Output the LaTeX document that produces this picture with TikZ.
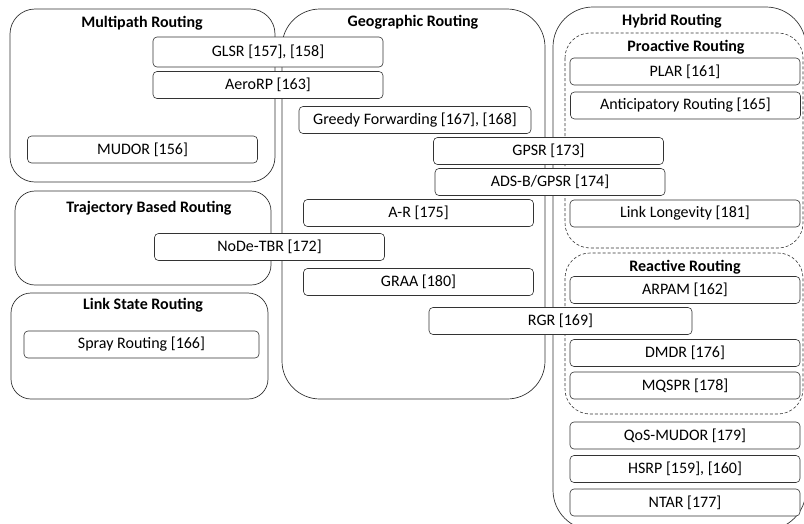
\documentclass[tikz,border=0pt]{standalone}
\usepackage{fontspec}
\setmainfont{Carlito}
\usepackage{tikz}
\tikzstyle{group} = [draw=black!80, line width=0.7pt]
\tikzstyle{subgroup} = [draw=black!80, line width=0.6pt, dashed, dash pattern=on 3pt off 2pt]
\tikzstyle{title} = [font=\fontsize{16}{18}\selectfont\bfseries, inner sep=0pt]
\tikzstyle{proto} = [rectangle, rounded corners=4pt, minimum width=230pt, minimum height=27pt,
text centered, draw=black!80, line width=0.6pt, fill=white, inner sep=0pt, font=\fontsize{16}{18}\selectfont]

\begin{document}
\begin{tikzpicture}[x=1pt,y=-1pt]
                 \useasboundingbox (0,0) rectangle (804,523);
                 \clip (0,0) rectangle (804,523);
                 % routing families
                 \draw [group, rounded corners=25pt] (10,9) rectangle (275,182);
                 \draw [group, rounded corners=38pt] (282,9) rectangle (545,399);
                 \draw [group, rounded corners=40pt] (553,7) rectangle (806,530);
                 \draw [group, rounded corners=20pt] (15,191) rectangle (271,285);
                 \draw [group, rounded corners=20pt] (11,293) rectangle (268,399);
                 \draw [subgroup, rounded corners=25pt] (565,33) rectangle (803,248);
                 \draw [subgroup, rounded corners=25pt] (565,253) rectangle (803,414);
                 \node (multipath) [title] at (142,23) {Multipath Routing};
                 \node (geographic) [title] at (413,22) {Geographic Routing};
                 \node (hybrid) [title] at (672,21) {Hybrid Routing};
                 \node (proactive) [title] at (686,47) {Proactive Routing};
                 \node (reactive) [title] at (685,267) {Reactive Routing};
                 \node (trajectory) [title] at (149,208) {Trajectory Based Routing};
                 \node (linkstate) [title] at (143,305) {Link State Routing};
                 % protocols
                 \node (glsr) [proto, minimum height=30pt] at (268,52) {GLSR [157], [158]};
                 \node (aerorp) [proto] at (268,85) {AeroRP [163]};
                 \node (greedy) [proto, minimum width=232pt] at (415,120) {Greedy Forwarding [167], [168]};
                 \node (mudor) [proto] at (142.5,149.5) {MUDOR [156]};
                 \node (gpsr) [proto] at (548.5,151) {GPSR [173]};
                 \node (adsb) [proto] at (550,182) {ADS-B/GPSR [174]};
                 \node (ar) [proto] at (418.5,213) {A-R [175]};
                 \node (nodetbr) [proto] at (269.5,247) {NoDe-TBR [172]};
                 \node (graa) [proto] at (418.5,282) {GRAA [180]};
                 \node (rgr) [proto, minimum width=263pt] at (560.5,321) {RGR [169]};
                 \node (spray) [proto, minimum width=235pt] at (141.5,344.5) {Spray Routing [166]};
                 \node (plar) [proto] at (685,71.5) {PLAR [161]};
                 \node (anticip) [proto] at (685.5,105.5) {Anticipatory Routing [165]};
                 \node (longevity) [proto] at (685,213.5) {Link Longevity [181]};
                 \node (arpam) [proto] at (685,290) {ARPAM [162]};
                 \node (dmdr) [proto] at (685,353) {DMDR [176]};
                 \node (mqspr) [proto] at (685,385.5) {MQSPR [178]};
                 \node (qosmudor) [proto] at (685,435.5) {QoS-MUDOR [179]};
                 \node (hsrp) [proto] at (685,469) {HSRP [159], [160]};
                 \node (ntar) [proto] at (685,502.5) {NTAR [177]};
             \end{tikzpicture}
\end{document}
